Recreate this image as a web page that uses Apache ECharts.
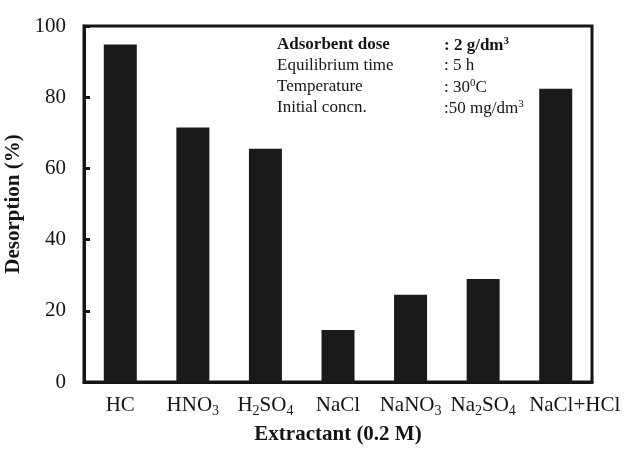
<!DOCTYPE html>
<html><head><meta charset="utf-8">
<script src="https://cdn.jsdelivr.net/npm/echarts@6/dist/echarts.min.js"></script>
<style>html,body{margin:0;padding:0;background:#fff}#c{width:626px;height:451px}</style>
</head><body><div id="c"></div>
<script>
const categories = ['HC', 'HNO3', 'H2SO4', 'NaCl', 'NaNO3', 'Na2SO4', 'NaCl+HCl'];
const categoryLabels = ['{n|HC}', '{n|HNO}{s|3}', '{n|H}{s|2}{n|SO}{s|4}', '{n|NaCl}', '{n|NaNO}{s|3}', '{n|Na}{s|2}{n|SO}{s|4}', '{w|NaCl+HCl}'];
const desorption = [94.8, 71.5, 65.5, 14.6, 24.5, 28.9, 82.4];
const yTicks = [0, 20, 40, 60, 80, 100];
const conditionLabels = ['Adsorbent dose', 'Equilibrium time', 'Temperature', 'Initial concn.'];
const conditionValues = [': 2 g/dm{p|3}', ': 5 h', ': 30{p|0}C', ':50 mg/dm{p|3}'];

const serif = '"Liberation Serif", "Times New Roman", serif';
const ink = '#151515';
const chart = echarts.init(document.getElementById('c'));

const rich = {
  n: { fontFamily: serif, fontSize: 21, color: ink, lineHeight: 26 },
  w: { fontFamily: serif, fontSize: 21, color: ink, lineHeight: 26, padding: [0, 0, 0, 38] },
  s: { fontFamily: serif, fontSize: 14, color: ink, lineHeight: 14, verticalAlign: 'bottom' }
};

const graphics = [];
conditionLabels.forEach((t, i) => {
  graphics.push({
    type: 'text', left: 277, top: 36 + i * 21,
    style: { text: t, font: (i === 0 ? 'bold ' : '') + '17px ' + serif, fill: ink }
  });
  graphics.push({
    type: 'text', left: 444, top: 36 + i * 21,
    style: { text: conditionValues[i], font: (i === 0 ? 'bold ' : '') + '17px ' + serif, fill: ink,
      rich: { p: { fontFamily: serif, fontSize: 11, fontWeight: i === 0 ? 'bold' : 'normal', fill: ink, padding: [0, 0, 8, 0] } } }
  });
});

chart.setOption({
  animation: false,
  backgroundColor: '#fff',
  grid: { left: 84, right: 34, top: 26, bottom: 69, containLabel: false, outerBoundsMode: 'none',
    show: true, borderColor: ink, borderWidth: 3, backgroundColor: 'transparent' },
  xAxis: {
    type: 'category', data: categories,
    name: 'Extractant (0.2 M)', nameLocation: 'middle', nameGap: 42,
    nameTextStyle: { fontFamily: serif, fontSize: 21, fontWeight: 'bold', color: ink },
    axisLine: { lineStyle: { color: ink, width: 3 } },
    axisTick: { show: false },
    axisLabel: { fontFamily: serif, fontSize: 21, color: ink, margin: 10, interval: 0,
      formatter: (v, i) => categoryLabels[i], rich: rich }
  },
  yAxis: {
    type: 'value', min: 0, max: 100, interval: 20,
    name: 'Desorption (%)', nameLocation: 'middle', nameGap: 46,
    nameTextStyle: { fontFamily: serif, fontSize: 21, fontWeight: 'bold', color: ink },
    axisLine: { show: true, lineStyle: { color: ink, width: 3 } },
    axisTick: { show: true, inside: true, length: 6, lineStyle: { color: ink, width: 3 } },
    splitLine: { show: false },
    axisLabel: { fontFamily: serif, fontSize: 21, color: ink, margin: 18,
      formatter: v => yTicks.includes(v) ? String(v) : '' }
  },
  series: [{
    type: 'bar', data: desorption, barWidth: 33,
    itemStyle: { color: '#1a1a1a' }
  }],
  graphic: graphics
});
</script></body></html>
